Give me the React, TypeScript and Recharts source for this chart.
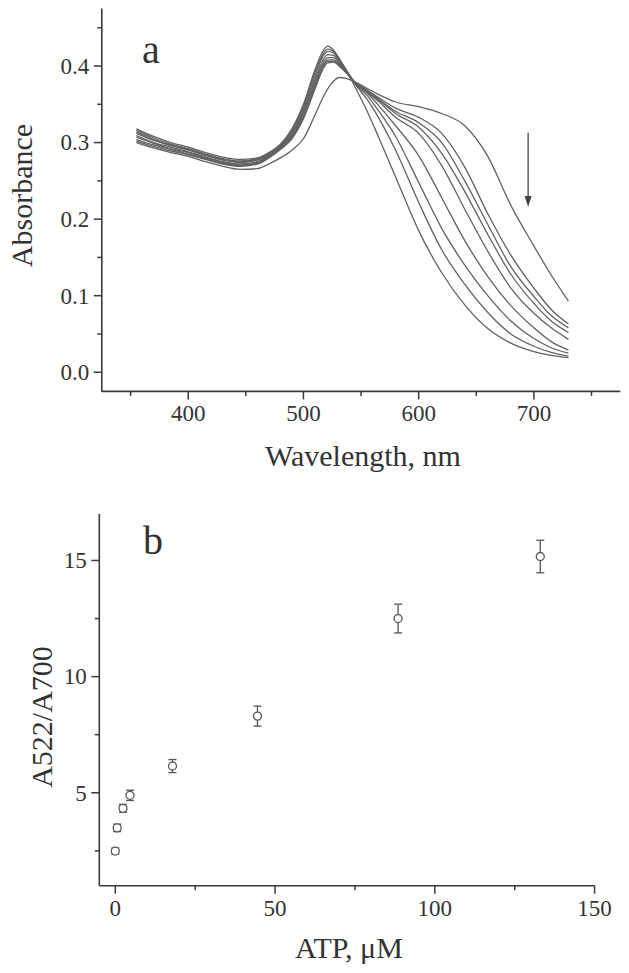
import React from 'react';
import {
  LineChart,
  Line,
  XAxis,
  YAxis,
  ReferenceLine,
  ScatterChart,
  Scatter,
  ErrorBar,
} from 'recharts';

// ---------- Panel a: absorbance spectra ----------
const wavelengths = [355, 370, 385, 400, 415, 430, 445, 460, 470, 480, 490, 500, 510, 516, 521, 526, 531, 537, 545, 555, 565, 580, 600, 620, 640, 660, 680, 700, 715, 730];

const curve1 = [0.300, 0.293, 0.287, 0.282, 0.275, 0.269, 0.265, 0.266, 0.272, 0.280, 0.290, 0.305, 0.336, 0.356, 0.370, 0.380, 0.385, 0.384, 0.379, 0.371, 0.363, 0.353, 0.347, 0.338, 0.322, 0.282, 0.218, 0.165, 0.127, 0.093];
const curve2 = [0.302, 0.295, 0.289, 0.284, 0.278, 0.272, 0.269, 0.272, 0.280, 0.291, 0.305, 0.331, 0.370, 0.393, 0.404, 0.405, 0.400, 0.391, 0.378, 0.369, 0.359, 0.345, 0.333, 0.312, 0.268, 0.207, 0.153, 0.110, 0.082, 0.063];
const curve3 = [0.304, 0.297, 0.291, 0.285, 0.279, 0.273, 0.270, 0.273, 0.281, 0.292, 0.306, 0.333, 0.372, 0.395, 0.406, 0.406, 0.401, 0.392, 0.378, 0.368, 0.357, 0.341, 0.326, 0.300, 0.250, 0.193, 0.138, 0.099, 0.074, 0.058];
const curve4 = [0.307, 0.299, 0.292, 0.287, 0.280, 0.274, 0.271, 0.274, 0.282, 0.293, 0.308, 0.335, 0.375, 0.398, 0.408, 0.408, 0.402, 0.392, 0.378, 0.367, 0.356, 0.338, 0.320, 0.286, 0.236, 0.180, 0.128, 0.090, 0.067, 0.052];
const curve5 = [0.309, 0.300, 0.294, 0.288, 0.281, 0.275, 0.272, 0.275, 0.283, 0.294, 0.310, 0.338, 0.378, 0.401, 0.411, 0.411, 0.404, 0.393, 0.378, 0.366, 0.354, 0.333, 0.312, 0.270, 0.213, 0.158, 0.110, 0.077, 0.058, 0.043];
const curve6 = [0.312, 0.303, 0.296, 0.290, 0.283, 0.277, 0.274, 0.277, 0.284, 0.295, 0.312, 0.341, 0.382, 0.405, 0.415, 0.414, 0.406, 0.394, 0.378, 0.365, 0.349, 0.322, 0.283, 0.228, 0.172, 0.125, 0.087, 0.058, 0.040, 0.029];
const curve7 = [0.314, 0.304, 0.297, 0.291, 0.284, 0.278, 0.275, 0.278, 0.285, 0.296, 0.314, 0.344, 0.387, 0.410, 0.419, 0.417, 0.408, 0.395, 0.377, 0.362, 0.342, 0.308, 0.248, 0.188, 0.140, 0.100, 0.067, 0.044, 0.032, 0.025];
const curve8 = [0.316, 0.306, 0.298, 0.292, 0.285, 0.279, 0.276, 0.279, 0.286, 0.297, 0.316, 0.347, 0.391, 0.413, 0.422, 0.419, 0.409, 0.395, 0.376, 0.357, 0.333, 0.290, 0.222, 0.160, 0.115, 0.078, 0.050, 0.034, 0.026, 0.021];
const curve9 = [0.318, 0.308, 0.300, 0.294, 0.287, 0.281, 0.278, 0.280, 0.287, 0.298, 0.318, 0.350, 0.395, 0.417, 0.426, 0.421, 0.410, 0.395, 0.372, 0.342, 0.308, 0.255, 0.185, 0.130, 0.088, 0.057, 0.038, 0.027, 0.022, 0.019];

const curves = [curve1, curve2, curve3, curve4, curve5, curve6, curve7, curve8, curve9];

const xTicksA = [350, 400, 450, 500, 550, 600, 650, 700, 750];
const xLabelsA = [400, 500, 600, 700];
const yTicksA = [0, 0.05, 0.1, 0.15, 0.2, 0.25, 0.3, 0.35, 0.4, 0.45];
const yLabelsA = [0, 0.1, 0.2, 0.3, 0.4];

// arrow: wavelength and absorbance of its tail and head
const arrowWl = 695;
const arrowFrom = 0.313;
const arrowTo = 0.216;

// ---------- Panel b: A522/A700 vs ATP ----------
const atp = [0, 0.6, 2.4, 4.6, 17.9, 44.5, 88.5, 133];
const ratio = [2.49, 3.49, 4.33, 4.89, 6.15, 8.3, 12.5, 15.17];
const ratioErr = [0.13, 0.16, 0.17, 0.22, 0.28, 0.43, 0.62, 0.7];

const xTicksB = [0, 25, 50, 75, 100, 125, 150];
const xLabelsB = [0, 50, 100, 150];
const yTicksB = [2.5, 5, 7.5, 10, 12.5, 15];
const yLabelsB = [5, 10, 15];

// ---------- styling ----------
const FONT = "'Liberation Serif', 'Times New Roman', serif";
const AXIS = '#3a3a3a';
const TEXT = '#333333';
const CURVE = '#616161';

const rowsA = wavelengths.map((wl, i) => {
  const row: Record<string, number> = { wl };
  curves.forEach((c, k) => {
    row['c' + (k + 1)] = c[i];
  });
  return row;
});

const pointsB = atp.map((x, i) => ({ x, y: ratio[i], err: ratioErr[i] }));

const isIn = (arr: number[], v: number) => arr.some((a) => Math.abs(a - v) < 1e-9);

const makeXTick = (labels: number[], fmt: (v: number) => string) => (props: any) => {
  const { x, y, payload } = props;
  const major = isIn(labels, payload.value);
  return (
    <g>
      <line x1={x} y1={y} x2={x} y2={y + (major ? 8 : 4.5)} stroke={AXIS} strokeWidth={1.5} />
      {major && (
        <text x={x} y={y + 30} textAnchor="middle" fontSize={23} fontFamily={FONT} fill={TEXT}>
          {fmt(payload.value)}
        </text>
      )}
    </g>
  );
};

const makeYTick = (labels: number[], fmt: (v: number) => string) => (props: any) => {
  const { x, y, payload } = props;
  const major = isIn(labels, payload.value);
  return (
    <g>
      <line x1={x} y1={y} x2={x - (major ? 8 : 4.5)} y2={y} stroke={AXIS} strokeWidth={1.5} />
      {major && (
        <text x={x - 12.5} y={y} dy="0.34em" textAnchor="end" fontSize={23} fontFamily={FONT} fill={TEXT}>
          {fmt(payload.value)}
        </text>
      )}
    </g>
  );
};

const XTickA = makeXTick(xLabelsA, (v) => String(v));
const YTickA = makeYTick(yLabelsA, (v) => v.toFixed(1));
const XTickB = makeXTick(xLabelsB, (v) => String(v));
const YTickB = makeYTick(yLabelsB, (v) => String(v));

const ArrowShape = (p: any) => {
  const { x1, y1, x2, y2 } = p;
  return (
    <g>
      <line x1={x1} y1={y1} x2={x2} y2={y2 - 8} stroke="#444" strokeWidth={1.3} />
      <polygon points={`${x2 - 3.5},${y2 - 11} ${x2 + 3.5},${y2 - 11} ${x2},${y2}`} fill="#444" />
    </g>
  );
};

const CircleShape = (p: any) => (
  <circle cx={p.cx} cy={p.cy} r={4} fill="#ffffff" stroke="#555" strokeWidth={1.3} />
);

export default function App() {
  return (
    <div style={{ position: 'absolute', left: 0, top: 0, width: 629, height: 973, background: '#fff' }}>
      <div style={{ position: 'absolute', left: 0, top: 0 }}>
        <LineChart width={629} height={480} data={rowsA} margin={{ top: 8.6, right: 8.7, bottom: 0, left: 0 }}>
          <XAxis
            dataKey="wl"
            type="number"
            domain={[325, 775]}
            ticks={xTicksA}
            interval={0}
            height={88.6}
            tick={XTickA}
            tickLine={false}
            tickSize={0}
            tickMargin={0}
            axisLine={{ stroke: AXIS, strokeWidth: 1.6 }}
            allowDataOverflow
          />
          <YAxis
            type="number"
            domain={[-0.025, 0.475]}
            ticks={yTicksA}
            interval={0}
            width={101.8}
            tick={YTickA}
            tickLine={false}
            tickSize={0}
            tickMargin={0}
            axisLine={{ stroke: AXIS, strokeWidth: 1.6 }}
            allowDataOverflow
          />
          {curves.map((_, k) => (
            <Line
              key={k}
              dataKey={'c' + (k + 1)}
              type="monotone"
              stroke={CURVE}
              strokeWidth={1.3}
              dot={false}
              activeDot={false}
              isAnimationActive={false}
            />
          ))}
          <ReferenceLine
            segment={[
              { x: arrowWl, y: arrowFrom },
              { x: arrowWl, y: arrowTo },
            ]}
            shape={ArrowShape}
            ifOverflow="visible"
          />
        </LineChart>
      </div>
      <div style={{ position: 'absolute', left: 0, top: 480 }}>
        <ScatterChart width={629} height={493} margin={{ top: 34, right: 34.4, bottom: 0, left: 0 }}>
          <XAxis
            dataKey="x"
            type="number"
            domain={[-5, 150]}
            ticks={xTicksB}
            interval={0}
            height={87.3}
            tick={XTickB}
            tickLine={false}
            tickSize={0}
            tickMargin={0}
            axisLine={{ stroke: AXIS, strokeWidth: 1.6 }}
            allowDataOverflow
          />
          <YAxis
            dataKey="y"
            type="number"
            domain={[1, 17]}
            ticks={yTicksB}
            interval={0}
            width={99.3}
            tick={YTickB}
            tickLine={false}
            tickSize={0}
            tickMargin={0}
            axisLine={{ stroke: AXIS, strokeWidth: 1.6 }}
            allowDataOverflow
          />
          <Scatter data={pointsB} shape={CircleShape} isAnimationActive={false}>
            <ErrorBar dataKey="err" direction="y" width={4} stroke="#555" strokeWidth={1.3} />
          </Scatter>
        </ScatterChart>
      </div>
      <svg
        width={629}
        height={973}
        style={{ position: 'absolute', left: 0, top: 0, pointerEvents: 'none' }}
        fontFamily={FONT}
        fill={TEXT}
      >
        <text x={142} y={63} fontSize={40}>a</text>
        <text transform="translate(32,195.5) rotate(-90)" textAnchor="middle" fontSize={30}>Absorbance</text>
        <text x={363} y={466} textAnchor="middle" fontSize={30}>Wavelength, nm</text>
        <text x={143} y={554} fontSize={40}>b</text>
        <text transform="translate(52,717) rotate(-90)" textAnchor="middle" fontSize={30}>A522/A700</text>
        <text x={349} y={958} textAnchor="middle" fontSize={30}>ATP, μM</text>
      </svg>
    </div>
  );
}
